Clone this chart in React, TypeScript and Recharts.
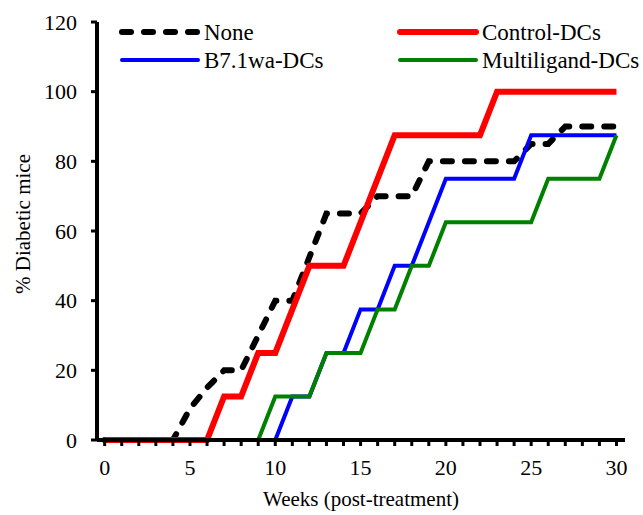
import React from "react";
import { LineChart, Line, XAxis, YAxis, Legend } from "recharts";

// % diabetic mice per week
const noneSeries = [
    { week: 0, pct: 0 }, { week: 4, pct: 0 }, { week: 5, pct: 9 }, { week: 6, pct: 15 },
    { week: 7, pct: 20 }, { week: 8, pct: 20 }, { week: 10, pct: 40 }, { week: 11, pct: 40 },
    { week: 13, pct: 65 }, { week: 15, pct: 65 }, { week: 16, pct: 70 }, { week: 18, pct: 70 },
    { week: 19, pct: 80 }, { week: 24, pct: 80 }, { week: 25, pct: 85 }, { week: 26, pct: 85 },
    { week: 27, pct: 90 }, { week: 30, pct: 90 },
];
const controlSeries = [
    { week: 0, pct: 0 }, { week: 6, pct: 0 }, { week: 7, pct: 12.5 }, { week: 8, pct: 12.5 },
    { week: 9, pct: 25 }, { week: 10, pct: 25 }, { week: 12, pct: 50 }, { week: 14, pct: 50 },
    { week: 17, pct: 87.5 }, { week: 22, pct: 87.5 }, { week: 23, pct: 100 }, { week: 30, pct: 100 },
];
const b71Series = [
    { week: 0, pct: 0 }, { week: 10, pct: 0 }, { week: 11, pct: 12.5 }, { week: 12, pct: 12.5 },
    { week: 13, pct: 25 }, { week: 14, pct: 25 }, { week: 15, pct: 37.5 }, { week: 16, pct: 37.5 },
    { week: 17, pct: 50 }, { week: 18, pct: 50 }, { week: 20, pct: 75 }, { week: 24, pct: 75 },
    { week: 25, pct: 87.5 }, { week: 30, pct: 87.5 },
];
const multiSeries = [
    { week: 0, pct: 0 }, { week: 9, pct: 0 }, { week: 10, pct: 12.5 }, { week: 12, pct: 12.5 },
    { week: 13, pct: 25 }, { week: 15, pct: 25 }, { week: 16, pct: 37.5 }, { week: 17, pct: 37.5 },
    { week: 18, pct: 50 }, { week: 19, pct: 50 }, { week: 20, pct: 62.5 }, { week: 25, pct: 62.5 },
    { week: 26, pct: 75 }, { week: 29, pct: 75 }, { week: 30, pct: 87.5 },
];

const xTicks = [0, 1, 2, 3, 4, 5, 6, 7, 8, 9, 10, 11, 12, 13, 14, 15, 16, 17, 18, 19, 20,
    21, 22, 23, 24, 25, 26, 27, 28, 29, 30];
const xLabelTicks = [0, 5, 10, 15, 20, 25, 30];
const yTicks = [0, 20, 40, 60, 80, 100, 120];

const FONT = "'Liberation Serif', 'Times New Roman', serif";
const DASH = "9 13";

const legendItems = [
    { name: "None", color: "#000000", width: 6, dash: DASH, x: 122, y: 32 },
    { name: "Control-DCs", color: "#ff0000", width: 6, dash: undefined, x: 400, y: 32 },
    { name: "B7.1wa-DCs", color: "#0000ff", width: 4, dash: undefined, x: 122, y: 60 },
    { name: "Multiligand-DCs", color: "#008000", width: 4, dash: undefined, x: 400, y: 60 },
];

function ChartLegend() {
    return (
        <svg width={643} height={80} style={{ position: "absolute", left: 0, top: 0 }}>
            {legendItems.map((it) => (
                <g key={it.name}>
                    <line x1={it.x} x2={it.x + 76} y1={it.y} y2={it.y} stroke={it.color}
                        strokeWidth={it.width} strokeDasharray={it.dash} strokeLinecap="round" />
                    <text x={it.x + 82} y={it.y + 8} fontFamily={FONT} fontSize={23} fill="#000">
                        {it.name}
                    </text>
                </g>
            ))}
        </svg>
    );
}

export default function App() {
    return (
        <div style={{ position: "absolute", left: 0, top: 0, width: 643, height: 515, background: "#fff" }}>
            <LineChart width={643} height={515} margin={{ top: 22, right: 18, left: 0, bottom: 0 }}>
                <XAxis
                    type="number"
                    dataKey="week"
                    domain={[-0.45, 30.5]}
                    ticks={xTicks}
                    allowDataOverflow
                    height={75}
                    tickSize={6}
                    tickMargin={13}
                    interval={0}
                    tickFormatter={(v: number) => (xLabelTicks.includes(v) ? String(v) : "")}
                    axisLine={{ stroke: "#000", strokeWidth: 4 }}
                    tickLine={{ stroke: "#000", strokeWidth: 3 }}
                    tick={{ fill: "#000", fontSize: 22, fontFamily: FONT }}
                    label={{ value: "Weeks (post-treatment)", position: "insideBottom", offset: 9,
                        fill: "#000", fontSize: 21, fontFamily: FONT }}
                />
                <YAxis
                    type="number"
                    domain={[0, 120]}
                    ticks={yTicks}
                    width={97}
                    tickSize={6}
                    tickMargin={14}
                    axisLine={{ stroke: "#000", strokeWidth: 4 }}
                    tickLine={{ stroke: "#000", strokeWidth: 3 }}
                    tick={{ fill: "#000", fontSize: 22, fontFamily: FONT }}
                    label={{
                        content: () => (
                            <text x={23} y={224} transform="rotate(-90 23 224)" textAnchor="middle"
                                dominantBaseline="central" fontFamily={FONT} fontSize={21} fill="#000">
                                % Diabetic mice
                            </text>
                        ),
                    }}
                />
                <Legend content={() => null} />
                <Line data={noneSeries} dataKey="pct" name="None" type="linear" stroke="#000000"
                    strokeWidth={6} strokeDasharray={DASH} strokeLinecap="round" dot={false}
                    isAnimationActive={false} />
                <Line data={controlSeries} dataKey="pct" name="Control-DCs" type="linear" stroke="#ff0000"
                    strokeWidth={6} dot={false} isAnimationActive={false} />
                <Line data={b71Series} dataKey="pct" name="B7.1wa-DCs" type="linear" stroke="#0000ff"
                    strokeWidth={4} dot={false} isAnimationActive={false} />
                <Line data={multiSeries} dataKey="pct" name="Multiligand-DCs" type="linear" stroke="#008000"
                    strokeWidth={4} dot={false} isAnimationActive={false} />
            </LineChart>
            <ChartLegend />
        </div>
    );
}
